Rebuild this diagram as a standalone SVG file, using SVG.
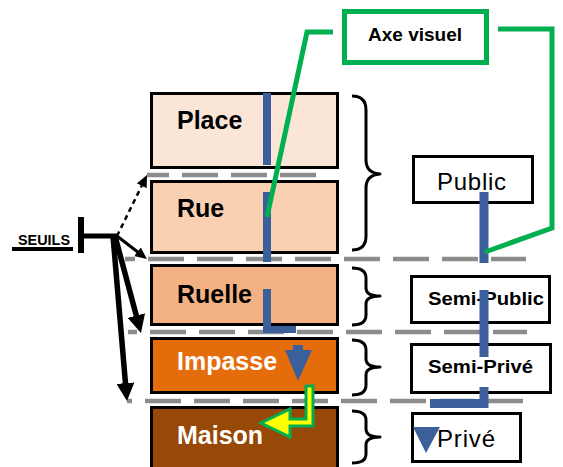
<svg xmlns="http://www.w3.org/2000/svg" width="563" height="467" viewBox="0 0 563 467">
<style>
.box{stroke:#000;stroke-width:3}
.rbox{fill:#fff;stroke:#000;stroke-width:3}
.lbl{font-family:"Liberation Sans",Arial,sans-serif;font-weight:bold;font-size:25px}
.rlbl{font-family:"Liberation Sans",Arial,sans-serif;font-size:24px;fill:#000}
.slbl{font-family:"Liberation Sans",Arial,sans-serif;font-weight:bold;font-size:18px;fill:#000}
.dash{stroke:#8C8C8C;stroke-width:4.5;stroke-dasharray:36 13;fill:none}
.brace{fill:none;stroke:#000;stroke-width:3;stroke-linejoin:round}
.blue{fill:#3A5F9B}
.green{fill:none;stroke:#00B050;stroke-width:5;stroke-linejoin:miter}
.arr{stroke:#000;fill:none}
</style>
<defs>
<marker id="headS" markerUnits="userSpaceOnUse" markerWidth="12" markerHeight="11" refX="2" refY="5.5" orient="auto" viewBox="0 0 12 11"><path d="M0,0 L12,5.5 L0,11 Z" fill="#000"/></marker>
<marker id="headL" markerUnits="userSpaceOnUse" markerWidth="18" markerHeight="18" refX="3" refY="9" orient="auto" viewBox="0 0 18 18"><path d="M0,0 L18,9 L0,18 Z" fill="#000"/></marker>
</defs>
<rect width="563" height="467" fill="#fff"/>

<g id="seuils">
<text x="18" y="245" font-family="Liberation Sans,Arial,sans-serif" font-weight="bold" font-size="15" textLength="52" lengthAdjust="spacingAndGlyphs">SEUILS</text>
<rect x="12" y="247" width="61" height="4" fill="#000"/>
<line x1="81" y1="217" x2="81" y2="253" stroke="#000" stroke-width="6"/>
<line x1="81" y1="236" x2="118" y2="236" stroke="#000" stroke-width="5"/>
</g>

<g id="place"><rect class="box" x="151.5" y="93.5" width="186" height="74" fill="#FBE5D6"/><text class="lbl" x="177" y="129" fill="#000">Place</text></g>
<g id="rue"><rect class="box" x="151.5" y="181.5" width="186" height="71" fill="#F9D0B2"/><text class="lbl" x="177" y="217" fill="#000">Rue</text></g>
<g id="ruelle"><rect class="box" x="151.5" y="265.5" width="186" height="59" fill="#F4B183"/><text class="lbl" x="177" y="303" fill="#000">Ruelle</text></g>
<g id="impasse"><rect class="box" x="151.5" y="338.5" width="186" height="54" fill="#E46C0A"/><text class="lbl" x="177" y="370" fill="#fff">Impasse</text></g>
<g id="maison"><rect class="box" x="151.5" y="407.5" width="186" height="64" fill="#984807"/><text class="lbl" x="177" y="444" fill="#fff">Maison</text></g>

<g id="thresholds">
<line class="dash" x1="147" y1="175" x2="317" y2="175" stroke-dashoffset="14"/>
<line class="dash" x1="125" y1="259" x2="526" y2="259" stroke-dashoffset="26"/>
<line class="dash" x1="128" y1="332" x2="527" y2="332" stroke-dashoffset="27"/>
<line class="dash" x1="127" y1="401" x2="523" y2="401" stroke-dashoffset="31"/>
</g>

<g id="braces">
<path class="brace" d="M352,96 Q366,96 366,110 L366,160 Q366,173 380,174 Q366,175 366,188 L366,236 Q366,250 352,250"/>
<path class="brace" d="M352,268 Q366,268 366,278 L366,288 Q366,296 380,296 Q366,296 366,304 L366,315 Q366,325 352,325"/>
<path class="brace" d="M352,340 Q366,340 366,350 L366,359 Q366,367 380,367 Q366,367 366,375 L366,385 Q366,395 352,395"/>
<path class="brace" d="M352,411 Q366,411 366,420 L366,429 Q366,437 380,437 Q366,437 366,445 L366,454 Q366,463 352,463"/>
</g>

<g id="public"><rect class="rbox" x="413.5" y="156.5" width="119" height="46"/><text class="rlbl" x="437" y="190" textLength="69">Public</text></g>
<g id="semi-public"><rect class="rbox" x="411.5" y="276.5" width="138" height="46"/><text class="slbl" x="428" y="305" textLength="116" lengthAdjust="spacingAndGlyphs">Semi-Public</text></g>
<g id="semi-prive"><rect class="rbox" x="411.5" y="344.5" width="139" height="48"/><text class="slbl" x="428" y="373" textLength="105" lengthAdjust="spacingAndGlyphs">Semi-Privé</text></g>
<g id="prive"><rect class="rbox" x="412.5" y="413.5" width="108" height="48"/><text class="rlbl" x="437" y="447" textLength="58">Privé</text></g>

<g id="axe-visuel"><rect x="344.5" y="11.5" width="142" height="51" fill="#fff" stroke="#00B050" stroke-width="5"/><text x="368" y="41" font-family="Liberation Sans,Arial,sans-serif" font-weight="bold" font-size="18" textLength="94" lengthAdjust="spacingAndGlyphs">Axe visuel</text></g>

<g id="connectors">
<line class="arr" x1="117" y1="236" x2="142.6" y2="184" stroke-width="2.5" stroke-dasharray="5 4" marker-end="url(#headS)"/>
<line class="arr" x1="117" y1="236" x2="139" y2="253" stroke-width="3" marker-end="url(#headS)"/>
<line class="arr" x1="115" y1="236" x2="137.1" y2="318.5" stroke-width="5.5" marker-end="url(#headL)"/>
<line class="arr" x1="113" y1="236" x2="125.7" y2="386.1" stroke-width="5.5" marker-end="url(#headL)"/>

<rect class="blue" x="263" y="93" width="8" height="72"/>
<rect class="blue" x="263" y="192" width="8" height="70"/>
<path class="blue" d="M263,289 L271,289 L271,326 L296,326 L296,333 L263,333 Z"/>
<path class="blue" d="M293,345 L303,345 L303,350 L312,350 L298,381 L285,350 L293,350 Z"/>
<rect class="blue" x="479.5" y="192" width="9" height="71"/>
<rect class="blue" x="479.5" y="290" width="9" height="67"/>
<path class="blue" d="M479.5,387 L488.5,387 L488.5,408 L430,408 L430,399 L479.5,399 Z"/>
<path class="blue" d="M413,427 L440,427 L426,453 Z"/>

<polyline class="green" points="333,32 307,32 267,217"/>
<polyline class="green" points="498,29 552,29 552,228 485,252"/>
<path d="M313,386 L313,426 L290,426 L290,437 L261,423 L290,409 L290,419 L306,419 L306,386 Z" fill="#FFFF00" stroke="#00B050" stroke-width="3" stroke-linejoin="miter"/>
</g>
</svg>
